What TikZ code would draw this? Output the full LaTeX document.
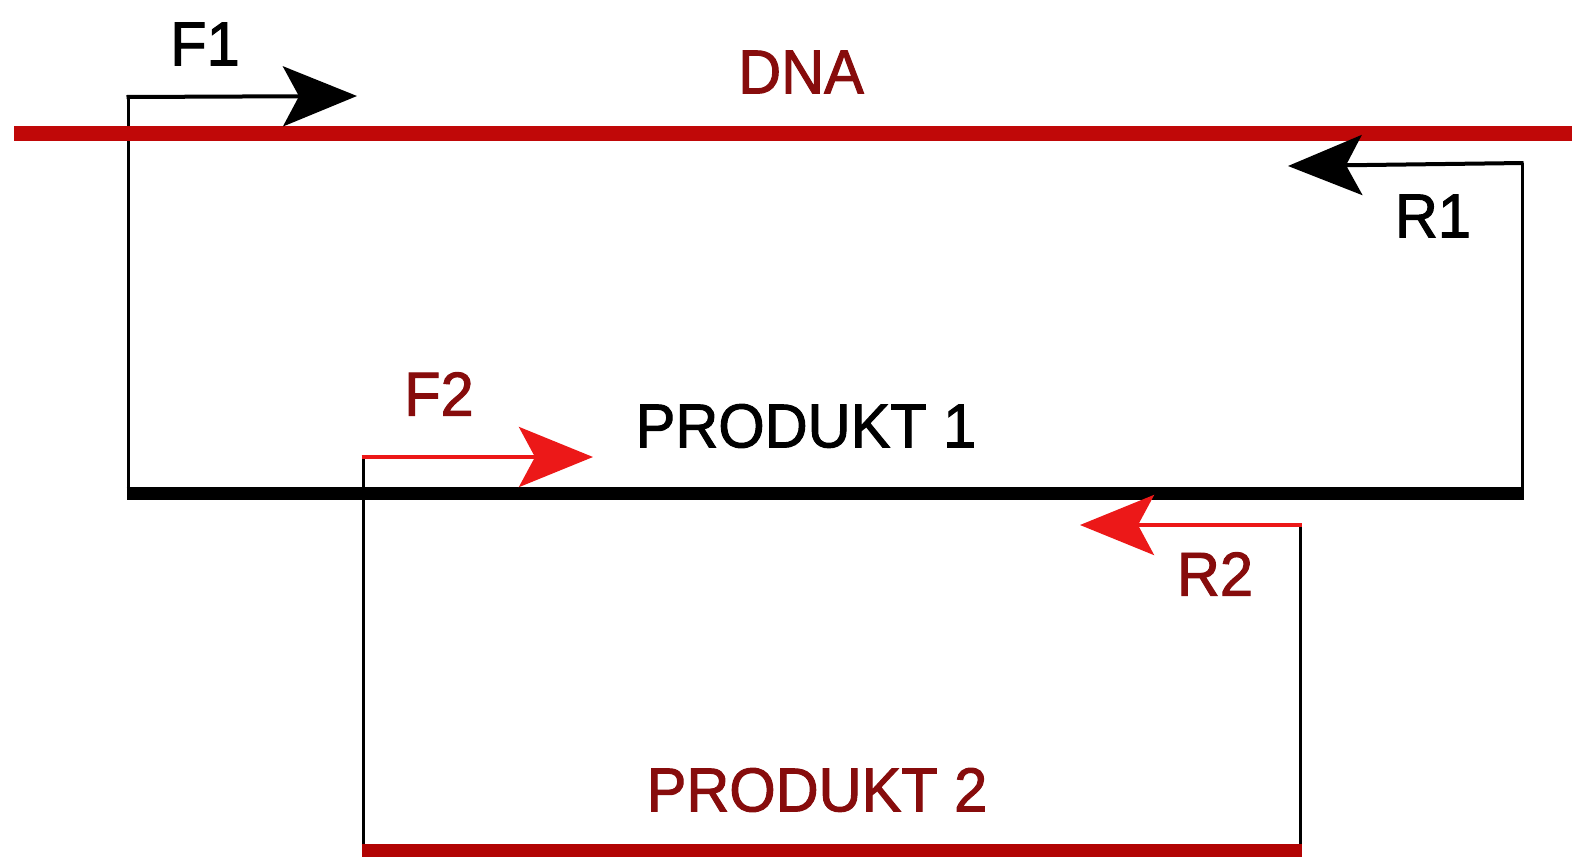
\documentclass[tikz,border=0pt]{standalone}
\usepackage{fontspec}
\setmainfont{Liberation Sans}[FakeBold=1.6,FakeStretch=0.96]
\usetikzlibrary{arrows.meta}
\definecolor{dnared}{RGB}{192,8,8}
\definecolor{txtred}{RGB}{135,12,12}
\definecolor{brightred}{RGB}{236,24,24}
\definecolor{ptred}{RGB}{178,4,4}
\begin{document}
\begin{tikzpicture}[x=1pt,y=-1pt,
  wire/.style={line width=3pt},
  primer/.style={line width=4pt,-{Stealth[length=74pt,width=60pt,inset=16pt]}},
  strand/.style={line width=13pt},
  lbl/.style={inner sep=0pt,font=\fontsize{62}{62}\selectfont}]
\useasboundingbox[fill=white] (0,0) rectangle (1572,857);
% coordinates
\coordinate (dnaL) at (14,133);
\coordinate (dnaR) at (1572,133);
\coordinate (f1c) at (128,97);
\coordinate (f1t) at (357,96);
\coordinate (p1L) at (128,493);
\coordinate (p1R) at (1522,493);
\coordinate (r1c) at (1522,163);
\coordinate (r1t) at (1288,166);
\coordinate (f2c) at (363,457);
\coordinate (f2t) at (593,457);
\coordinate (p2L) at (363,850);
\coordinate (p2R) at (1300,850);
\coordinate (r2c) at (1300,525);
\coordinate (r2t) at (1080,525);
% vertical wires
\draw[wire] (f1c) -- (p1L);
\draw[wire] (r1c) -- (p1R);
\draw[wire] (f2c) -- (p2L);
\draw[wire] (r2c) -- (p2R);
% strands
\draw[strand,dnared,line width=15pt] (dnaL) -- (dnaR);
\draw[strand,black] ([xshift=-1.5pt]p1L) -- ([xshift=1.5pt]p1R);
\draw[strand,ptred] ([xshift=-1.5pt]p2L) -- ([xshift=1.5pt]p2R);
% primers
\draw[primer,black] ([xshift=-1.5pt]f1c) -- (f1t);
\draw[primer,black] ([xshift=1.5pt]r1c) -- (r1t);
\draw[primer,brightred] ([xshift=-1.5pt]f2c) -- (f2t);
\draw[primer,brightred] ([xshift=1.5pt]r2c) -- (r2t);
% labels
\node[lbl] (F1) at (205,44) {F1};
\node[lbl,txtred] (DNA) at (801,72) {DNA};
\node[lbl] (R1) at (1433,216) {R1};
\node[lbl,txtred] (F2) at (439,394) {F2};
\node[lbl] (P1) at (806,426) {PRODUKT 1};
\node[lbl,txtred] (R2) at (1215,574) {R2};
\node[lbl,txtred] (P2) at (817,790) {PRODUKT 2};
\end{tikzpicture}
\end{document}
